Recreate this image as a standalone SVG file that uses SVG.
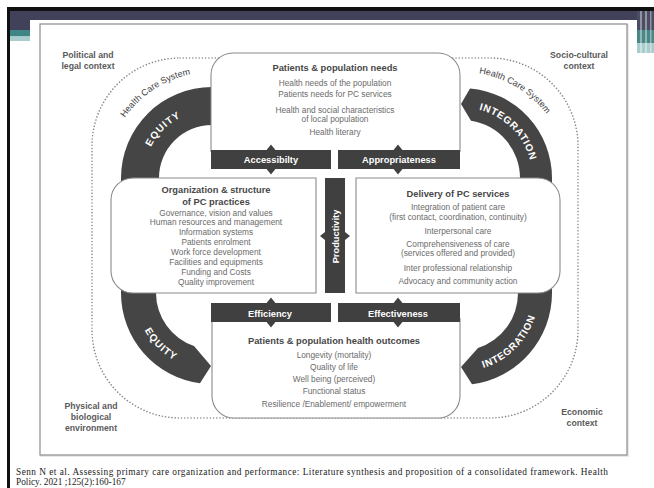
<svg xmlns="http://www.w3.org/2000/svg" width="654" height="488" viewBox="0 0 654 488">
<style>
.box{fill:#fff;stroke:#8a8a8a;stroke-width:1.1}
.band{fill:#454545}
.bar{fill:#404040}
.title{font-family:"Liberation Sans",Arial,sans-serif;font-weight:bold;font-size:9.3px;fill:#474747;text-anchor:middle}
.item{font-family:"Liberation Sans",Arial,sans-serif;font-size:8.3px;fill:#6b6b6b;text-anchor:middle}
.blab{font-family:"Liberation Sans",Arial,sans-serif;font-weight:bold;font-size:9.3px;fill:#fff;text-anchor:middle}
.arc{font-family:"Liberation Sans",Arial,sans-serif;font-weight:bold;font-size:10px;fill:#fff;text-anchor:middle}
.ctx{font-family:"Liberation Sans",Arial,sans-serif;font-weight:bold;font-size:8.7px;fill:#5a5a5a;text-anchor:middle}
.hcs{font-family:"Liberation Sans",Arial,sans-serif;font-size:9px;fill:#404040;text-anchor:middle}
.cite{font-family:"Liberation Serif","Times New Roman",serif;font-size:9.3px;fill:#222}
</style>
<defs>
<path id="pTL" d="M 143.6,178 A 68.4 68.4 0 0 1 212,109.6"/>
<path id="pTR" d="M 462,107.6 A 70.4 70.4 0 0 1 532.4,178"/>
<path id="pBL" d="M 134.9,293 A 77.1 77.1 0 0 0 212,370.1"/>
<path id="pBR" d="M 460,371.6 A 78.6 78.6 0 0 0 538.6,293"/>
<path id="hL" d="M 108.2,157 A 106 106 0 0 1 233.1,74.1"/>
<path id="hR" d="M 436.4,75.2 A 106 106 0 0 1 564.9,152.4"/>
</defs>
<rect width="654" height="488" fill="#fff"/>
<g id="slide-frame">
<rect x="7" y="7" width="647" height="4" fill="#111"/>
<rect x="7" y="7" width="3" height="481" fill="#111"/>
<rect x="10" y="11" width="627" height="9" fill="#41425a"/>
<rect x="10" y="20" width="20" height="10" fill="#41425a"/>
<rect x="10" y="30" width="20" height="6.5" fill="#3f8585"/>
<rect x="10" y="36.5" width="20" height="4.5" fill="#a9cccc"/>
<rect x="637" y="11" width="17" height="19" fill="#4a4d63"/>
<rect x="637" y="30" width="17" height="13" fill="#4a8888"/>
<rect x="637" y="43" width="17" height="10" fill="#a9cccc"/>
<rect x="640" y="11" width="2" height="42" fill="#fff" opacity="0.4"/>
<rect x="645" y="11" width="2" height="42" fill="#fff" opacity="0.4"/>
<rect x="650" y="11" width="1.5" height="42" fill="#fff" opacity="0.4"/>
<rect x="41" y="25" width="587" height="431" fill="none" stroke="#e2e2e2" stroke-width="1.5"/>
<rect x="40" y="24" width="587" height="431" fill="#fff" stroke="#8c8c8c" stroke-width="1.2"/>
</g>
<g id="context-labels">
<text class="ctx" x="88" y="58">Political and</text>
<text class="ctx" x="88" y="69">legal context</text>
<text class="ctx" x="579" y="58">Socio-cultural</text>
<text class="ctx" x="579" y="69">context</text>
<text class="ctx" x="91" y="409">Physical and</text>
<text class="ctx" x="91" y="420">biological</text>
<text class="ctx" x="91" y="431">environment</text>
<text class="ctx" x="582" y="415">Economic</text>
<text class="ctx" x="582" y="426">context</text>
</g>
<g id="health-care-system">
<rect x="92" y="58" width="486" height="360" rx="88" fill="none" stroke="#8a8a8a" stroke-width="1.6" stroke-dasharray="0.01 3.2" stroke-linecap="round"/>
<text class="hcs"><textPath href="#hL" startOffset="50%">Health Care System</textPath></text>
<text class="hcs"><textPath href="#hR" startOffset="50%">Health Care System</textPath></text>
</g>
<g id="equity-top">
<path class="band" d="M 121,200 L 121,178 A 91 91 0 0 1 212,87 L 222,87 L 222,125 L 212,125 A 53 53 0 0 0 159,178 L 159,200 Z"/>
<text class="arc" letter-spacing="1"><textPath href="#pTL" startOffset="50%">EQUITY</textPath></text>
</g>
<g id="integration-top">
<path class="band" d="M 470,88.4 A 90 90 0 0 1 552,178 L 552,200 L 520,200 L 520,178 A 58 58 0 0 0 471,120.7 L 461,104 Z"/>
<text class="arc" letter-spacing="0.7"><textPath href="#pTR" startOffset="50%">INTEGRATION</textPath></text>
</g>
<g id="equity-bottom">
<path class="band" d="M 121,270 L 121,293 A 91 91 0 0 0 200,383.2 L 211,366 L 194,346 A 56 56 0 0 1 156,293 L 156,270 Z"/>
<text class="arc" letter-spacing="1"><textPath href="#pBL" startOffset="50%">EQUITY</textPath></text>
</g>
<g id="integration-bottom">
<path class="band" d="M 552,270 L 552,293 A 92 92 0 0 1 472,384.2 L 461,367 L 478,348.1 A 58 58 0 0 0 518,293 L 518,270 Z"/>
<text class="arc" letter-spacing="0.7"><textPath href="#pBR" startOffset="50%">INTEGRATION</textPath></text>
</g>
<g id="needs">
<path class="box" d="M 211,152 V 75 A 22 22 0 0 1 233,53 H 438 A 22 22 0 0 1 460,75 V 152"/>
<text class="title" x="335" y="70.5">Patients &amp; population needs</text>
<text class="item" x="335" y="85.5">Health needs of the population</text>
<text class="item" x="335" y="97">Patients needs for PC services</text>
<text class="item" x="335" y="112.7">Health and social characteristics</text>
<text class="item" x="335" y="121.7">of local population</text>
<text class="item" x="335" y="135">Health literary</text>
</g>
<g id="organization">
<path class="box" d="M 316,178 H 133 A 22 22 0 0 0 111,200 V 271 A 22 22 0 0 0 133,293 H 316 Z"/>
<text class="title" x="216" y="193">Organization &amp; structure</text>
<text class="title" x="216" y="204.7">of PC practices</text>
<text class="item" x="216" y="215.5">Governance, vision and values</text>
<text class="item" x="216" y="225.3">Human resources and management</text>
<text class="item" x="216" y="235.2">Information systems</text>
<text class="item" x="216" y="245">Patients enrolment</text>
<text class="item" x="216" y="254.9">Work force development</text>
<text class="item" x="216" y="264.8">Facilities and equipments</text>
<text class="item" x="216" y="274.7">Funding and Costs</text>
<text class="item" x="216" y="284.6">Quality improvement</text>
</g>
<g id="delivery">
<path class="box" d="M 356,178 H 538 A 22 22 0 0 1 560,200 V 271 A 22 22 0 0 1 538,293 H 356 Z"/>
<text class="title" x="458" y="196.5">Delivery of PC services</text>
<text class="item" x="458" y="210.4">Integration of patient care</text>
<text class="item" x="458" y="220.4">(first contact, coordination, continuity)</text>
<text class="item" x="458" y="233.7">Interpersonal care</text>
<text class="item" x="458" y="246.7">Comprehensiveness of care</text>
<text class="item" x="458" y="256">(services offered and provided)</text>
<text class="item" x="458" y="271">Inter professional relationship</text>
<text class="item" x="458" y="283.7">Advocacy and community action</text>
</g>
<g id="outcomes">
<path class="box" d="M 212,318 V 396 A 22 22 0 0 0 234,418 H 438 A 22 22 0 0 0 460,396 V 318"/>
<text class="title" x="334" y="344">Patients &amp; population health outcomes</text>
<text class="item" x="334" y="357.7">Longevity (mortality)</text>
<text class="item" x="334" y="370">Quality of life</text>
<text class="item" x="334" y="382">Well being (perceived)</text>
<text class="item" x="334" y="393.7">Functional status</text>
<text class="item" x="334" y="406.7">Resilience /Enablement/ empowerment</text>
</g>
<g id="connectors">
<g id="accessibility">
<rect class="bar" x="211" y="150" width="120" height="19"/>
<polygon class="bar" points="259,159.5 271,144.5 283,159.5 271,174.5"/>
<text class="blab" x="271" y="163">Accessibilty</text>
</g>
<g id="appropriateness">
<rect class="bar" x="338" y="150" width="122" height="19"/>
<polygon class="bar" points="386,159.5 398,144.5 410,159.5 398,174.5"/>
<text class="blab" x="399" y="163">Appropriateness</text>
</g>
<g id="efficiency">
<rect class="bar" x="211" y="303" width="120" height="19"/>
<polygon class="bar" points="259,312.5 271,297.5 283,312.5 271,327.5"/>
<text class="blab" x="270" y="316.5">Efficiency</text>
</g>
<g id="effectiveness">
<rect class="bar" x="338" y="303" width="122" height="19"/>
<polygon class="bar" points="386,312.5 398,297.5 410,312.5 398,327.5"/>
<text class="blab" x="398" y="316.5">Effectiveness</text>
</g>
<g id="productivity">
<rect class="bar" x="325" y="178" width="20" height="115"/>
<polygon class="bar" points="320,236 335,224 350,236 335,248"/>
<text class="blab" transform="translate(338.5,236.5) rotate(-90)" x="0" y="0">Productivity</text>
</g>
</g>
<g id="citation">
<text class="cite" x="16" y="474.5" textLength="592" lengthAdjust="spacing">Senn N et al. Assessing primary care organization and performance: Literature synthesis and proposition of a consolidated framework. Health</text>
<text class="cite" x="16" y="484.5">Policy. 2021 ;125(2):160-167</text>
</g>
</svg>
